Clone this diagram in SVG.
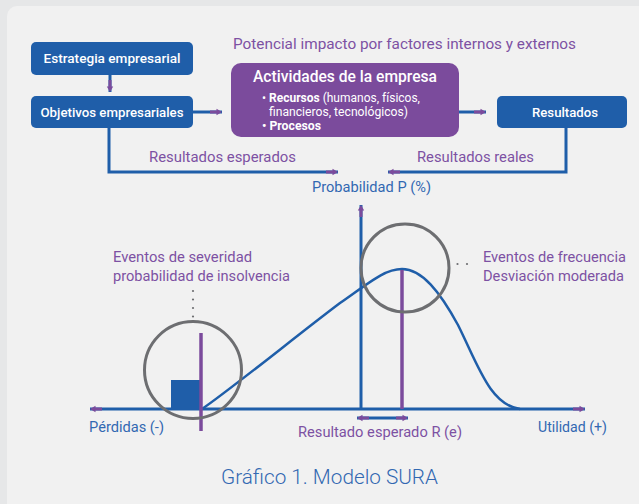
<svg xmlns="http://www.w3.org/2000/svg" width="639" height="504" viewBox="0 0 639 504">
<defs>
<style>
.t{font-family:Roboto,"Liberation Sans",sans-serif;}
.pt{fill:#7d51a3;font-size:15px;}
.bt{fill:#3268b2;font-size:14px;}
.wt{fill:#ffffff;font-size:13.5px;font-weight:500;}
.box{fill:#1f5ea9;}
.ln{stroke:#1f5ea9;stroke-width:3;fill:none;}
.ax{stroke:#1f5ea9;stroke-width:3;fill:none;}
.dot{fill:#6d6e71;}
</style>
<marker id="ah" viewBox="0 0 12 8" refX="12" refY="4" markerWidth="12" markerHeight="8" markerUnits="userSpaceOnUse" orient="auto-start-reverse">
<path d="M0,2.5 H8 V5.5 H0 Z M6.5,0.8 L12,4 L6.5,7.2 Z" fill="#7b4b9c"/>
</marker>
</defs>
<rect x="0" y="0" width="639" height="504" fill="#e6e7e8"/>
<rect x="7" y="6" width="660" height="520" rx="10" fill="#f1f1f1"/>

<g id="connectors">
<path class="ln" d="M110,75 V92" marker-end="url(#ah)"/>
<path class="ln" d="M193,112 H222" marker-end="url(#ah)"/>
<path class="ln" d="M459,112 H486" marker-end="url(#ah)"/>
<path class="ln" d="M109,128 V172 H338" marker-end="url(#ah)"/>
<path class="ln" d="M566,128 V172 H388" marker-end="url(#ah)"/>
</g>

<g id="estrategia">
<rect class="box" x="31" y="42" width="162" height="33" rx="5"/>
<text class="t wt" x="112" y="63" text-anchor="middle" textLength="137" lengthAdjust="spacingAndGlyphs">Estrategia empresarial</text>
</g>
<g id="objetivos">
<rect class="box" x="31" y="96" width="162" height="32" rx="5"/>
<text class="t wt" x="112" y="117" text-anchor="middle" textLength="143" lengthAdjust="spacingAndGlyphs">Objetivos empresariales</text>
</g>
<g id="actividades">
<rect x="231" y="63" width="228" height="74" rx="10" fill="#7b4b9c"/>
<text class="t" x="345" y="82" text-anchor="middle" fill="#fff" font-size="16.5" font-weight="500" textLength="184" lengthAdjust="spacingAndGlyphs">Actividades de la empresa</text>
<text class="t" x="262" y="102" fill="#fff" font-size="12.5" textLength="158" lengthAdjust="spacingAndGlyphs">• <tspan font-weight="700">Recursos</tspan> (humanos, físicos,</text>
<text class="t" x="269" y="116" fill="#fff" font-size="12.5" textLength="139" lengthAdjust="spacingAndGlyphs">financieros, tecnológicos)</text>
<text class="t" x="262" y="130" fill="#fff" font-size="12.5" font-weight="700" textLength="59" lengthAdjust="spacingAndGlyphs">• Procesos</text>
</g>
<g id="resultados">
<rect class="box" x="497" y="96" width="130" height="32" rx="5"/>
<text class="t wt" x="565" y="117" text-anchor="middle" textLength="66" lengthAdjust="spacingAndGlyphs">Resultados</text>
</g>

<g id="labels-top">
<text class="t pt" x="233" y="49" textLength="343" lengthAdjust="spacingAndGlyphs">Potencial impacto por factores internos y externos</text>
<text class="t pt" x="149" y="162" textLength="147" lengthAdjust="spacingAndGlyphs">Resultados esperados</text>
<text class="t pt" x="417" y="162" textLength="117" lengthAdjust="spacingAndGlyphs">Resultados reales</text>
</g>

<g id="chart">
<path class="ax" d="M361,409 V205" marker-end="url(#ah)"/>
<path class="ax" d="M361,409 H90" marker-end="url(#ah)"/>
<path class="ax" d="M361,409 H585" marker-end="url(#ah)"/>
<path class="ax" d="M382,418 H357" marker-end="url(#ah)"/>
<path class="ax" d="M382,418 H408" marker-end="url(#ah)"/>
<rect x="171" y="380" width="29" height="29" fill="#1f5ea9"/>
<path d="M202,409 C230,390 300,333 340,303 C370,282 385,269 402,269 C422,269 440,292 458,325 C478,365 490,405 520,409" fill="none" stroke="#1f5ea9" stroke-width="2.5"/>
<line x1="402" y1="270" x2="402" y2="409" stroke="#7b4b9c" stroke-width="3.5"/>
<line x1="201" y1="333" x2="201" y2="431" stroke="#7b4b9c" stroke-width="3.5"/>
<circle cx="193" cy="370" r="48.5" fill="none" stroke="#6d6e71" stroke-width="3"/>
<circle cx="405" cy="268" r="44" fill="none" stroke="#6d6e71" stroke-width="3"/>
<circle class="dot" cx="193" cy="291" r="1.1"/>
<circle class="dot" cx="193" cy="299.5" r="1.1"/>
<circle class="dot" cx="193" cy="308" r="1.1"/>
<circle class="dot" cx="193" cy="316.5" r="1.1"/>
<circle class="dot" cx="457.5" cy="264" r="1.1"/>
<circle class="dot" cx="467" cy="264" r="1.1"/>
<text class="t bt" x="312" y="192" textLength="119" lengthAdjust="spacingAndGlyphs">Probabilidad P (%)</text>
<text class="t pt" x="113" y="262" textLength="139" lengthAdjust="spacingAndGlyphs">Eventos de severidad</text>
<text class="t pt" x="113" y="281" textLength="177" lengthAdjust="spacingAndGlyphs">probabilidad de insolvencia</text>
<text class="t pt" x="483" y="262" textLength="143" lengthAdjust="spacingAndGlyphs">Eventos de frecuencia</text>
<text class="t pt" x="483" y="281" textLength="141" lengthAdjust="spacingAndGlyphs">Desviación moderada</text>
<text class="t bt" x="89" y="432" textLength="75" lengthAdjust="spacingAndGlyphs">Pérdidas (-)</text>
<text class="t bt" x="538" y="432" textLength="69" lengthAdjust="spacingAndGlyphs">Utilidad (+)</text>
<text class="t pt" x="298" y="437" textLength="164" lengthAdjust="spacingAndGlyphs">Resultado esperado R (e)</text>
</g>

<text class="t" x="221" y="484" fill="#3268b2" font-size="20" font-weight="300" textLength="217" lengthAdjust="spacingAndGlyphs">Gráfico 1. Modelo SURA</text>
</svg>
